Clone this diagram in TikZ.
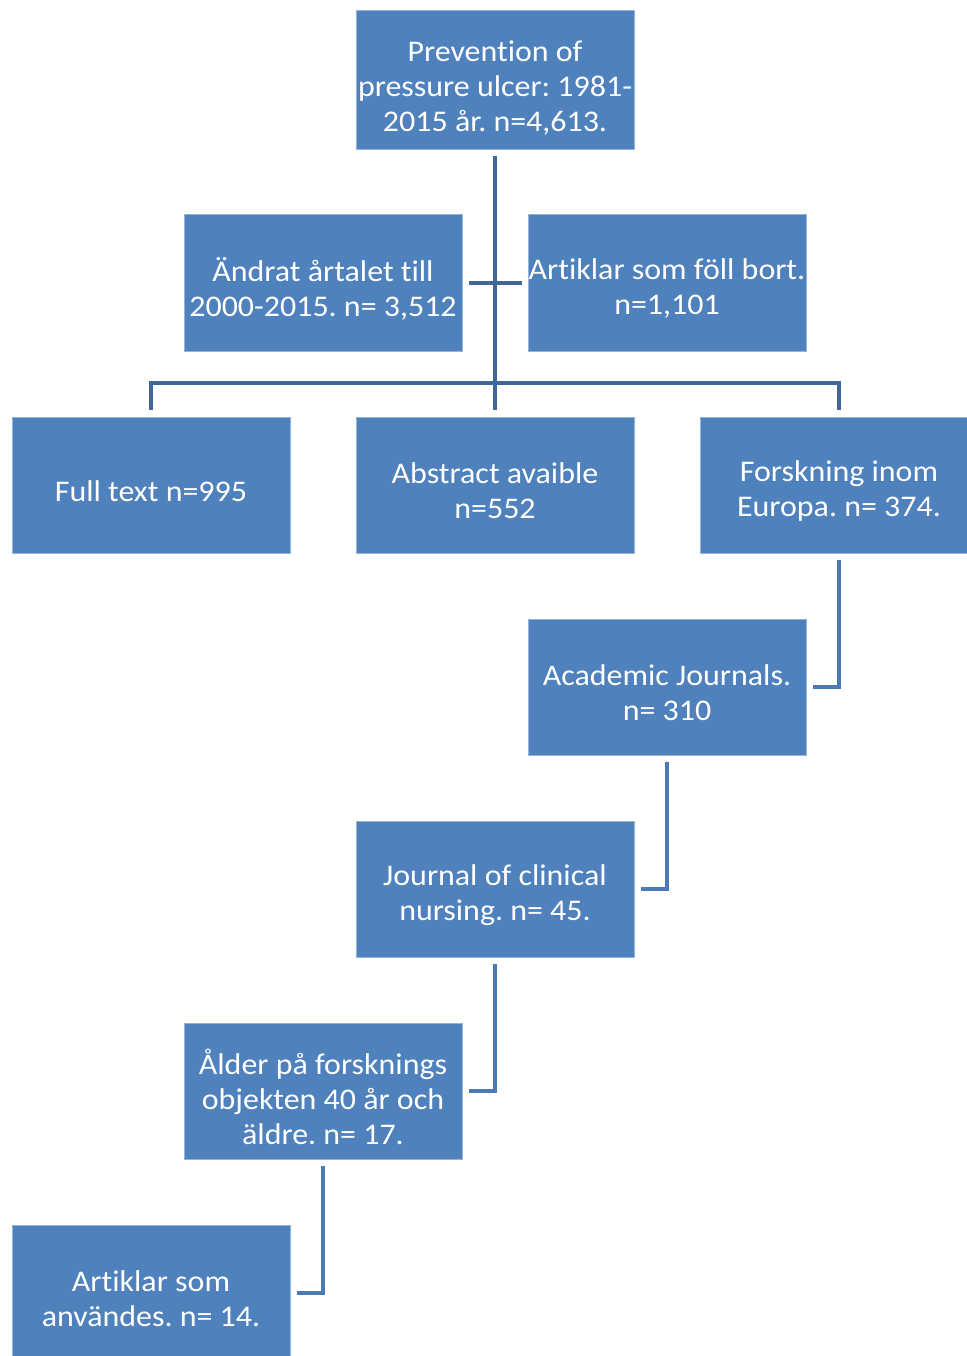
\documentclass[tikz,border=0pt]{standalone}
\usepackage{fontspec}
\setmainfont{Carlito}[FakeStretch=1.065,Ligatures=NoCommon]
\frenchspacing
\usetikzlibrary{calc}
\definecolor{boxblue}{HTML}{4F81BD}
\definecolor{topline}{HTML}{41679A}
\definecolor{lowline}{HTML}{4A7AB7}
\tikzset{
  flowbox/.style={fill=boxblue, draw=boxblue!60!white, line width=1pt,
    minimum width=278pt, minimum height=136pt, inner sep=0pt},
  boxtext/.style={text=white, align=center, inner sep=0pt, yshift=-6pt,
    font=\fontsize{30}{35}\selectfont},
  topconn/.style={draw=topline, line width=4.5pt},
  lowconn/.style={draw=lowline, line width=4.5pt}
}
\begin{document}
\begin{tikzpicture}[x=1pt,y=-1pt]
\useasboundingbox (0,0) rectangle (966,1356);
\node[flowbox, minimum height=139pt, label={[boxtext,yshift=-2pt]center:{Prevention of\\pressure ulcer: 1981-\\2015 år. n=4,613.}}] (top) at (495,80) {};
\node[flowbox, label={[boxtext]center:{Ändrat årtalet till\\2000-2015. n= 3,512}}] (andrat) at (323,283) {};
\node[flowbox, label={[boxtext]center:{Artiklar som föll bort.\\n=1,101}}] (artfoll) at (667,283) {};
\node[flowbox, label={[boxtext]center:{Full text n=995}}] (full) at (151,485) {};
\node[flowbox, label={[boxtext]center:{Abstract avaible\\n=552}}] (abstract) at (495,485) {};
\node[flowbox, label={[boxtext]center:{Forskning inom\\Europa. n= 374.}}] (forsk) at (839,485) {};
\node[flowbox, label={[boxtext]center:{Academic Journals.\\n= 310}}] (acad) at (667,687) {};
\node[flowbox, label={[boxtext]center:{Journal of clinical\\nursing. n= 45.}}] (jcn) at (495,889) {};
\node[flowbox, label={[boxtext]center:{Ålder på forsknings\\objekten 40 år och\\äldre. n= 17.}}] (alder) at (323,1091) {};
\node[flowbox, label={[boxtext]center:{Artiklar som\\användes. n= 14.}}] (anv) at (151,1293) {};
\coordinate (bus) at (495,383);
\draw[topconn] ($(top.south)+(0,6)$) -- ($(abstract.north)+(0,-7)$);
\draw[topconn] ($(andrat.east)+(6,0)$) -- ($(artfoll.west)+(-6,0)$);
\draw[topconn] ($(full.north)+(0,-7)$) |- (bus) -| ($(forsk.north)+(0,-7)$);
\draw[lowconn] ($(forsk.south)+(0,6)$) |- ($(acad.east)+(6,0)$);
\draw[lowconn] ($(acad.south)+(0,6)$) |- ($(jcn.east)+(6,0)$);
\draw[lowconn] ($(jcn.south)+(0,6)$) |- ($(alder.east)+(6,0)$);
\draw[lowconn] ($(alder.south)+(0,6)$) |- ($(anv.east)+(6,0)$);
\end{tikzpicture}
\end{document}
